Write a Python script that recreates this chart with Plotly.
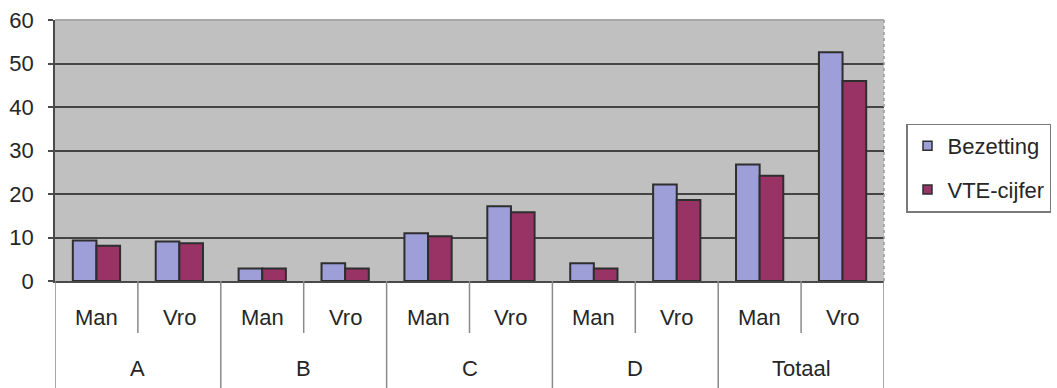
import plotly.graph_objects as go

# Data
groups = ["A", "B", "C", "D", "Totaal"]
sexes = ["Man", "Vro", "Man", "Vro", "Man", "Vro", "Man", "Vro", "Man", "Vro"]
bezetting = [9.3, 9.1, 2.9, 4.1, 11.0, 17.2, 4.1, 22.2, 26.8, 52.6]
vte_cijfer = [8.1, 8.7, 2.9, 2.9, 10.3, 15.8, 2.9, 18.6, 24.2, 46.0]
y_ticks = [0, 10, 20, 30, 40, 50, 60]

W, H = 1057, 388
ML, MR, MT, MB = 55, 173, 20, 107
plot_h = H - MT - MB

FONT = "Liberation Sans, Arial, sans-serif"
FS = 22
TXT = "#262626"
LINE = "#8a8a8a"
OUTLINE = "#2e2e2e"
C_BEZ = "#9e9ed9"
C_VTE = "#993366"

pos = list(range(len(sexes)))


def py(px_below_axis):
    """Paper y coordinate for a pixel offset below the x axis."""
    return -px_below_axis / plot_h


fig = go.Figure()
fig.add_trace(go.Bar(
    x=pos, y=bezetting, name="Bezetting", showlegend=False,
    marker=dict(color=C_BEZ, line=dict(color=OUTLINE, width=2)),
))
fig.add_trace(go.Bar(
    x=pos, y=vte_cijfer, name="VTE-cijfer", showlegend=False,
    marker=dict(color=C_VTE, line=dict(color=OUTLINE, width=2)),
))
# legend keys: small outlined squares
for name, col, grp in [("Bezetting", C_BEZ, "b"), ("VTE-cijfer", C_VTE, "v")]:
    fig.add_trace(go.Scatter(
        x=[None], y=[None], mode="markers", name=name, legendgroup=grp,
        marker=dict(symbol="square", size=9, color=col,
                    line=dict(color=OUTLINE, width=1.5)),
    ))

shapes = []
# top border of the plot area
shapes.append(dict(type="line", xref="paper", yref="paper", x0=0, x1=1, y0=1, y1=1,
                   line=dict(color="#a9a9a9", width=2), layer="above"))
# table lines under the axis
n = len(sexes)
for k in range(n + 1):
    xb = k - 0.5
    y1 = -MB / plot_h if k % 2 == 0 else py(52)
    shapes.append(dict(type="line", xref="x", yref="paper", x0=xb, x1=xb, y0=0, y1=y1,
                       line=dict(color=LINE, width=1.5)))
# right border of the plot area
shapes.append(dict(type="line", xref="paper", yref="paper", x0=1, x1=1, y0=0, y1=1,
                   line=dict(color="#9a9a9a", width=1.5, dash="dot")))

annotations = []
for i, s in enumerate(sexes):
    annotations.append(dict(x=i, y=py(36), xref="x", yref="paper", text=s,
                            showarrow=False, yanchor="middle",
                            font=dict(family=FONT, size=FS, color=TXT)))
for g, name in enumerate(groups):
    annotations.append(dict(x=2 * g + 0.5, y=py(87), xref="x", yref="paper", text=name,
                            showarrow=False, yanchor="middle",
                            font=dict(family=FONT, size=FS, color=TXT)))

fig.update_layout(
    width=W, height=H,
    margin=dict(l=ML, r=MR, t=MT, b=MB, pad=0, autoexpand=False),
    paper_bgcolor="white",
    plot_bgcolor="#c0c0c0",
    barmode="group",
    bargap=0.43,
    bargroupgap=0,
    font=dict(family=FONT, size=FS, color=TXT),
    showlegend=True,
    legend=dict(
        xref="container", yref="container",
        x=906 / W, xanchor="left", y=1 - 168 / H, yanchor="middle",
        bordercolor="#7a7a7a", borderwidth=1.5, bgcolor="white",
        font=dict(family=FONT, size=FS, color=TXT),
        traceorder="grouped", tracegroupgap=12, itemwidth=30,
    ),
    xaxis=dict(
        range=[-0.5, n - 0.5], showticklabels=False, ticks="", showgrid=False,
        zeroline=False, showline=True, linecolor="#4a4a4a", linewidth=1.5,
        fixedrange=True, automargin=False,
    ),
    yaxis=dict(
        range=[0, 60], tickvals=y_ticks, ticks="outside", ticklen=5,
        tickcolor="#4a4a4a", tickwidth=1.5, ticklabelstandoff=10,
        showgrid=True, gridcolor="#444444", gridwidth=2,
        zeroline=False, showline=True, linecolor="#4a4a4a", linewidth=1.5,
        tickfont=dict(family=FONT, size=FS, color=TXT), automargin=False,
    ),
    shapes=shapes,
    annotations=annotations,
)

fig.write_html("out.html")
